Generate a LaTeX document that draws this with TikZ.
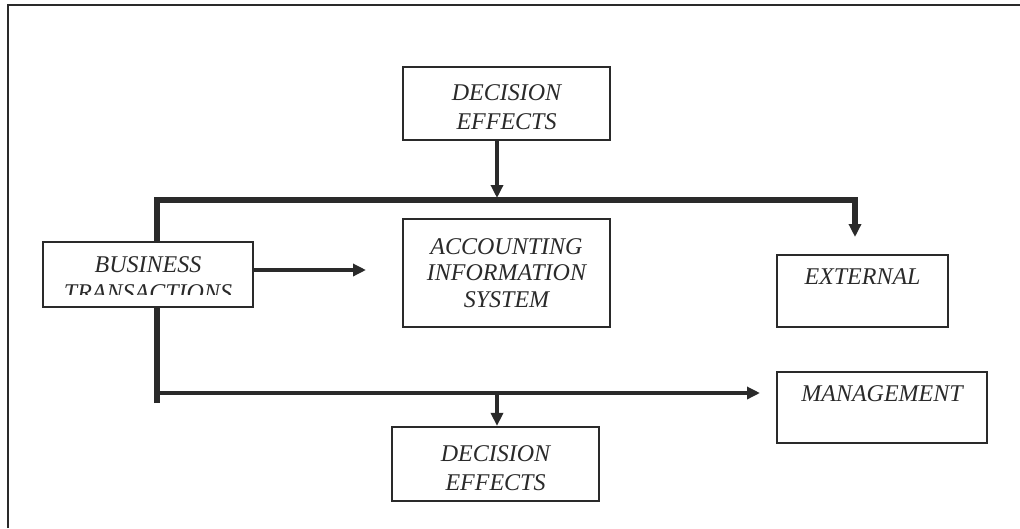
\documentclass[tikz,border=0pt]{standalone}
\usepackage{fontspec}
\setmainfont{Liberation Serif}
\usetikzlibrary{arrows.meta}
\definecolor{ink}{HTML}{2A2A2A}
\begin{document}
\begin{tikzpicture}[x=1pt,y=-1pt,
  box/.style={draw=ink, line width=2.2pt, fill=white, inner sep=0pt, align=center,
    font=\fontsize{24}{28}\selectfont\itshape, text=ink},
  txt/.style={inner sep=0pt, align=center, font=\fontsize{24}{28}\selectfont\itshape, text=ink},
  conn/.style={draw=ink, line width=5.5pt, line join=miter},
  arr/.style={draw=ink, line width=4.5pt, -{Triangle[length=13pt,width=12pt]}},
  frame/.style={draw=ink, line width=2pt}
]
\useasboundingbox (0,0) rectangle (1020,528);
% outer frame (only top and left visible)
\draw[frame] (8,528) -- (8,5) -- (1020,5);

% coordinates for free ends
\coordinate (vbot) at (157,403);
\coordinate (vtop) at (157,200);
\coordinate (ttr) at (855,200);
\coordinate (extstem) at (855,224);
\coordinate (extin) at (855,237);
\coordinate (bl) at (157,393);
\coordinate (manin) at (760,393);
\coordinate (tj) at (497,198);
\coordinate (bj) at (497,393);
\coordinate (accin) at (366,270);

% trunk lines
\draw[conn] (vbot) -- (vtop) -- (ttr) -- (extstem);
\draw[arr] (extstem) -- (extin);
\draw[arr] (bl) -- (manin);

% boxes
\node[box, minimum width=207pt, minimum height=73pt] (de1) at (506.5,103.5) {\rule{0pt}{24pt}DECISION\\[1pt]EFFECTS};
\node[box, minimum width=207pt, minimum height=108pt] (acc) at (506.5,273) {ACCOUNTING\\[-1.5pt]INFORMATION\\[-1pt]SYSTEM};
\node[box, minimum width=210pt, minimum height=65pt] (bus) at (148,274.5) {};
\begin{scope}
  \clip (44,243) rectangle (252,294);
  \node[txt] (bustxt) at (148,279) {BUSINESS\\TRANSACTIONS};
\end{scope}
\node[box, minimum width=171pt, minimum height=72pt] (ext) at (862.5,291) {EXTERNAL\\\mbox{}};
\node[box, minimum width=210pt, minimum height=71pt] (man) at (882,407.5) {MANAGEMENT\\\mbox{}};
\node[box, minimum width=207pt, minimum height=74pt] (de2) at (495.5,464) {\rule{0pt}{24pt}DECISION\\[1pt]EFFECTS};

% arrows from/to boxes
\draw[arr] (de1.south -| tj) -- (tj);
\draw[arr] (bj) -- (de2.north -| bj);
\draw[arr] (bus.east |- accin) -- (accin);
\end{tikzpicture}
\end{document}
